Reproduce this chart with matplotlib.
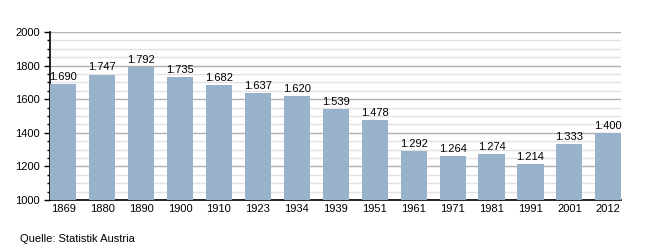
import matplotlib
matplotlib.use("Agg")
import matplotlib.pyplot as plt
from matplotlib.ticker import MultipleLocator

# Data
years = ["1869", "1880", "1890", "1900", "1910", "1923", "1934", "1939",
         "1951", "1961", "1971", "1981", "1991", "2001", "2012"]
population = [1690, 1747, 1792, 1735, 1682, 1637, 1620, 1539,
              1478, 1292, 1264, 1274, 1214, 1333, 1400]

plt.rcParams["font.family"] = ["Liberation Sans", "DejaVu Sans"]

fig = plt.figure(figsize=(6.5, 2.5), dpi=100)
ax = fig.add_axes([0.077, 0.2, 0.879, 0.672])

w = 0.67
x = range(len(years))
ax.bar(x, population, width=w, color="#98b2cb", zorder=3, bottom=0)

for xi, v in zip(x, population):
    label = f"{v:,}".replace(",", ".")
    ax.text(xi, v + 12, label, ha="center", va="bottom", fontsize=8, zorder=4)

ax.set_ylim(1000, 2000)
ax.set_xlim(-w / 2, len(years) - 1 + w / 2)
ax.set_xticks(list(x))
ax.set_xticklabels(years, fontsize=8)
ax.yaxis.set_major_locator(MultipleLocator(200))
ax.yaxis.set_minor_locator(MultipleLocator(50))
ax.tick_params(axis="y", labelsize=8, which="major", length=4, width=1)
ax.tick_params(axis="y", which="minor", length=2, width=1)
ax.tick_params(axis="x", length=0, pad=3)

ax.grid(axis="y", which="major", color="#b0b0b0", linewidth=1, zorder=0)
ax.grid(axis="y", which="minor", color="#e2e2e2", linewidth=1, zorder=0)

for s in ["top", "right"]:
    ax.spines[s].set_visible(False)
ax.spines["left"].set_linewidth(1.2)
ax.spines["bottom"].set_linewidth(1.2)

fig.text(20 / 650, 1 - 239 / 250, "Quelle: Statistik Austria", fontsize=8,
         va="center", ha="left")

fig.savefig("out.png", dpi=100)
